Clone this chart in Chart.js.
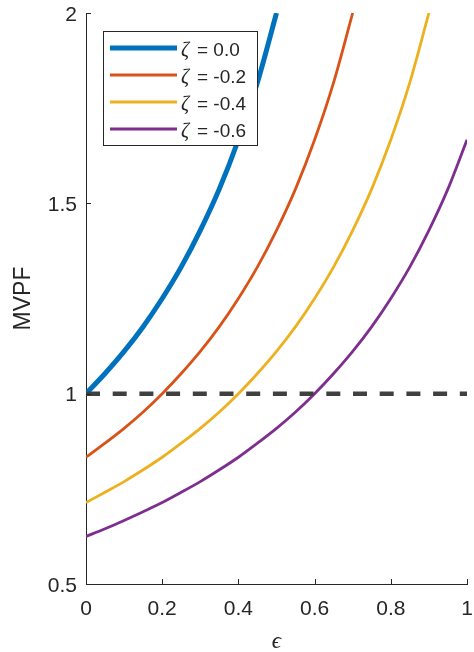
<!DOCTYPE html>
<html><head><meta charset="utf-8">
<script src="https://cdn.jsdelivr.net/npm/chart.js@4/dist/chart.umd.min.js"></script>
<style>html,body{margin:0;padding:0;background:#fff;}</style>
</head><body>
<canvas id="c" width="474" height="652"></canvas>
<script>
// ---- data ----
const epsilonGrid = [0, 0.05, 0.1, 0.15, 0.2, 0.25, 0.3, 0.35, 0.4, 0.45, 0.5, 0.55, 0.6, 0.65, 0.7, 0.75, 0.8, 0.85, 0.9, 0.95, 1.0];
const zetaLabels = ['0.0', '-0.2', '-0.4', '-0.6'];
const mvpfZeta00 = [1.000, 1.053, 1.111, 1.176, 1.250, 1.333, 1.429, 1.538, 1.667, 1.818, 2.000];
const mvpfZeta02 = [0.833, 0.870, 0.909, 0.952, 1.000, 1.053, 1.111, 1.176, 1.250, 1.333, 1.429, 1.538, 1.667, 1.818, 2.000];
const mvpfZeta04 = [0.714, 0.741, 0.769, 0.800, 0.833, 0.870, 0.909, 0.952, 1.000, 1.053, 1.111, 1.176, 1.250, 1.333, 1.429, 1.538, 1.667, 1.818, 2.000];
const mvpfZeta06 = [0.625, 0.645, 0.667, 0.690, 0.714, 0.741, 0.769, 0.800, 0.833, 0.870, 0.909, 0.952, 1.000, 1.053, 1.111, 1.176, 1.250, 1.333, 1.429, 1.538, 1.667];
const referenceX = [0, 1];
const referenceY = [1, 1];
const xTickValues = [0, 0.2, 0.4, 0.6, 0.8, 1];
const xTickLabels = ['0', '0.2', '0.4', '0.6', '0.8', '1'];
const yTickValues = [0.5, 1, 1.5, 2];
const yTickLabels = ['0.5', '1', '1.5', '2'];
const seriesColors = ['#0072BD', '#D95319', '#EDB120', '#7E2F8E'];

const seriesValues = [mvpfZeta00, mvpfZeta02, mvpfZeta04, mvpfZeta06];
const AXIS = '#262626';
const SANS = "'Liberation Sans', Arial, Helvetica, sans-serif";

const datasets = [{
  label: 'reference',
  data: referenceX.map((x, i) => ({x, y: referenceY[i]})),
  borderColor: '#404040', borderWidth: 4.5, borderDash: [14, 12.7],
  pointRadius: 0, fill: false, order: 0, clip: 0, inLegend: false
}];
seriesValues.forEach((vals, k) => {
  datasets.push({
    label: 'ζ = ' + zetaLabels[k],
    data: vals.map((y, i) => ({x: epsilonGrid[i], y})),
    borderColor: seriesColors[k], borderWidth: k === 0 ? 5 : 2.8,
    pointRadius: 0, fill: false, cubicInterpolationMode: 'monotone',
    order: 1, clip: 0, inLegend: true
  });
});

const inwardTicks = {
  id: 'inwardTicks',
  afterDatasetsDraw(chart) {
    const {ctx, chartArea: a, scales: {x, y}} = chart;
    ctx.save();
    ctx.strokeStyle = AXIS; ctx.lineWidth = 1;
    ctx.beginPath();
    xTickValues.forEach(v => { const px = Math.round(x.getPixelForValue(v)) + 0.5; ctx.moveTo(px, a.bottom); ctx.lineTo(px, a.bottom - 5); });
    yTickValues.forEach(v => { const py = Math.round(y.getPixelForValue(v)) + 0.5; ctx.moveTo(a.left, py); ctx.lineTo(a.left + 5, py); });
    ctx.stroke();
    ctx.restore();
  }
};

const boxLegend = {
  id: 'boxLegend',
  afterDraw(chart) {
    const ctx = chart.ctx;
    const items = chart.data.datasets.filter(d => d.inLegend);
    const bx = 103.5, by = 31.5, bw = 154, bh = 114;
    ctx.save();
    ctx.fillStyle = '#fff'; ctx.fillRect(bx, by, bw, bh);
    ctx.strokeStyle = AXIS; ctx.lineWidth = 1; ctx.strokeRect(bx, by, bw, bh);
    items.forEach((d, i) => {
      const ly = 48 + i * 27;
      ctx.strokeStyle = d.borderColor; ctx.lineWidth = d.borderWidth;
      ctx.beginPath(); ctx.moveTo(110, ly); ctx.lineTo(177, ly); ctx.stroke();
      ctx.fillStyle = AXIS; ctx.textBaseline = 'alphabetic'; ctx.textAlign = 'left';
      const parts = d.label.split(' = ');
      ctx.font = "italic 20px 'Liberation Serif', 'DejaVu Serif', serif";
      ctx.fillText(parts[0], 181, ly + 8);
      ctx.font = '19px ' + SANS;
      ctx.fillText('= ' + parts[1], 197, ly + 8);
    });
    ctx.restore();
  }
};

new Chart(document.getElementById('c'), {
  type: 'line',
  data: {datasets},
  plugins: [inwardTicks, boxLegend],
  options: {
    responsive: false, devicePixelRatio: 1, animation: false,
    layout: {padding: {left: 0, top: 13, right: 7, bottom: 0}},
    plugins: {legend: {display: false}, tooltip: {enabled: false}},
    elements: {line: {borderCapStyle: 'butt'}},
    scales: {
      x: {
        type: 'linear', min: 0, max: 1,
        afterBuildTicks: s => { s.ticks = xTickValues.map(v => ({value: v})); },
        afterFit: s => { s.height = 68; s.paddingLeft = 0; s.paddingRight = 0; },
        ticks: {callback: (v, i) => xTickLabels[i], font: {size: 21, family: SANS}, color: AXIS, padding: 13, maxRotation: 0, autoSkip: false},
        grid: {display: false, drawTicks: false},
        border: {display: true, color: AXIS, width: 1},
        title: {display: true, text: 'ϵ', color: AXIS, font: {size: 23, family: "'Liberation Serif', 'DejaVu Serif', serif", style: 'italic', lineHeight: 0.8}, padding: {top: 0, bottom: 1}}
      },
      y: {
        type: 'linear', min: 0.5, max: 2,
        afterBuildTicks: s => { s.ticks = yTickValues.map(v => ({value: v})); },
        afterFit: s => { s.width = 86; s.paddingTop = 0; s.paddingBottom = 0; },
        ticks: {callback: (v, i) => yTickLabels[i], font: {size: 21, family: SANS}, color: AXIS, padding: 9, labelOffset: 2, autoSkip: false},
        grid: {display: false, drawTicks: false},
        border: {display: true, color: AXIS, width: 1},
        title: {display: true, text: 'MVPF', color: AXIS, font: {size: 23, family: SANS}, padding: {top: 10, bottom: 0}}
      }
    }
  }
});
</script>
</body></html>
